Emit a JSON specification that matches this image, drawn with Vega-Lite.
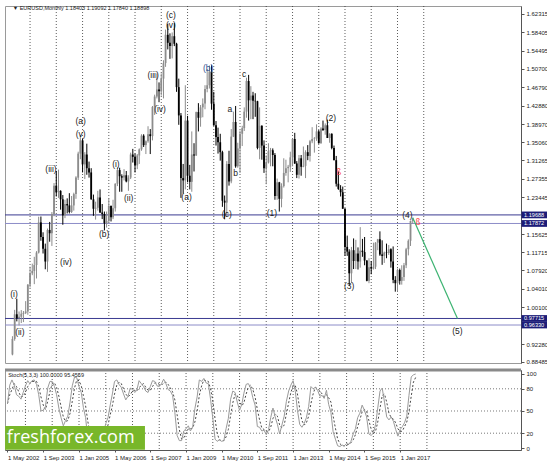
{
"$schema":"https://vega.github.io/schema/vega-lite/v6.json",
"padding":{"left":3,"top":5,"right":0,"bottom":0},
"background":"white",
"spacing":2,
"config":{"view":{"stroke":"#9a9a9a"},"font":"Liberation Sans","axis":{"labelFont":"Liberation Sans","labelFontSize":6,"labelColor":"#222222","tickColor":"#555555","domainColor":"#555555","tickSize":3,"labelPadding":2}},
"datasets":{
"bars":[
{"d":"2002-05-01","o":0.9005,"h":0.9395,"l":0.899,"c":0.9337,"k":60,"s":60},
{"d":"2002-06-01","o":0.9337,"h":0.9955,"l":0.93,"c":0.986,"k":85,"s":72},
{"d":"2002-07-01","o":0.986,"h":1.019,"l":0.971,"c":0.978,"k":92,"s":79},
{"d":"2002-08-01","o":0.978,"h":0.992,"l":0.9625,"c":0.981,"k":85,"s":87},
{"d":"2002-09-01","o":0.981,"h":0.995,"l":0.9675,"c":0.987,"k":72,"s":83},
{"d":"2002-10-01","o":0.987,"h":0.993,"l":0.9695,"c":0.989,"k":70,"s":76},
{"d":"2002-11-01","o":0.989,"h":1.014,"l":0.9865,"c":0.992,"k":66,"s":69},
{"d":"2002-12-01","o":0.992,"h":1.05,"l":0.985,"c":1.049,"k":75,"s":70},
{"d":"2003-01-01","o":1.049,"h":1.087,"l":1.043,"c":1.073,"k":84,"s":75},
{"d":"2003-02-01","o":1.073,"h":1.0935,"l":1.069,"c":1.078,"k":91,"s":83},
{"d":"2003-03-01","o":1.078,"h":1.108,"l":1.05,"c":1.0905,"k":87,"s":87},
{"d":"2003-04-01","o":1.0905,"h":1.12,"l":1.062,"c":1.117,"k":91,"s":90},
{"d":"2003-05-01","o":1.117,"h":1.193,"l":1.115,"c":1.181,"k":92,"s":90},
{"d":"2003-06-01","o":1.181,"h":1.1935,"l":1.142,"c":1.15,"k":86,"s":90},
{"d":"2003-07-01","o":1.15,"h":1.16,"l":1.115,"c":1.125,"k":72,"s":83},
{"d":"2003-08-01","o":1.125,"h":1.136,"l":1.0815,"c":1.098,"k":50,"s":69},
{"d":"2003-09-01","o":1.098,"h":1.168,"l":1.076,"c":1.165,"k":51,"s":58},
{"d":"2003-10-01","o":1.165,"h":1.182,"l":1.14,"c":1.158,"k":56,"s":52},
{"d":"2003-11-01","o":1.158,"h":1.203,"l":1.131,"c":1.199,"k":81,"s":63},
{"d":"2003-12-01","o":1.199,"h":1.2645,"l":1.194,"c":1.259,"k":90,"s":76},
{"d":"2004-01-01","o":1.259,"h":1.29,"l":1.236,"c":1.245,"k":90,"s":87},
{"d":"2004-02-01","o":1.245,"h":1.293,"l":1.233,"c":1.248,"k":83,"s":88},
{"d":"2004-03-01","o":1.248,"h":1.249,"l":1.208,"c":1.23,"k":72,"s":82},
{"d":"2004-04-01","o":1.23,"h":1.239,"l":1.176,"c":1.196,"k":54,"s":70},
{"d":"2004-05-01","o":1.196,"h":1.229,"l":1.19,"c":1.22,"k":41,"s":56},
{"d":"2004-06-01","o":1.22,"h":1.232,"l":1.2,"c":1.217,"k":30,"s":42},
{"d":"2004-07-01","o":1.217,"h":1.243,"l":1.2,"c":1.203,"k":37,"s":36},
{"d":"2004-08-01","o":1.203,"h":1.237,"l":1.201,"c":1.217,"k":43,"s":37},
{"d":"2004-09-01","o":1.217,"h":1.244,"l":1.206,"c":1.241,"k":62,"s":47},
{"d":"2004-10-01","o":1.241,"h":1.279,"l":1.231,"c":1.276,"k":84,"s":63},
{"d":"2004-11-01","o":1.276,"h":1.331,"l":1.271,"c":1.327,"k":96,"s":81},
{"d":"2004-12-01","o":1.327,"h":1.3665,"l":1.315,"c":1.355,"k":95,"s":92},
{"d":"2005-01-01","o":1.355,"h":1.358,"l":1.287,"c":1.304,"k":83,"s":91},
{"d":"2005-02-01","o":1.304,"h":1.33,"l":1.273,"c":1.325,"k":75,"s":84},
{"d":"2005-03-01","o":1.325,"h":1.348,"l":1.282,"c":1.296,"k":55,"s":71},
{"d":"2005-04-01","o":1.296,"h":1.31,"l":1.276,"c":1.287,"k":41,"s":57},
{"d":"2005-05-01","o":1.287,"h":1.296,"l":1.229,"c":1.23,"k":12,"s":36},
{"d":"2005-06-01","o":1.23,"h":1.24,"l":1.195,"c":1.21,"k":8,"s":20},
{"d":"2005-07-01","o":1.21,"h":1.225,"l":1.187,"c":1.212,"k":9,"s":10},
{"d":"2005-08-01","o":1.212,"h":1.248,"l":1.206,"c":1.234,"k":20,"s":12},
{"d":"2005-09-01","o":1.234,"h":1.251,"l":1.201,"c":1.202,"k":22,"s":17},
{"d":"2005-10-01","o":1.202,"h":1.22,"l":1.188,"c":1.199,"k":25,"s":22},
{"d":"2005-11-01","o":1.199,"h":1.204,"l":1.164,"c":1.179,"k":16,"s":21},
{"d":"2005-12-01","o":1.179,"h":1.204,"l":1.17,"c":1.184,"k":20,"s":20},
{"d":"2006-01-01","o":1.184,"h":1.232,"l":1.18,"c":1.216,"k":33,"s":23},
{"d":"2006-02-01","o":1.216,"h":1.217,"l":1.183,"c":1.192,"k":41,"s":31},
{"d":"2006-03-01","o":1.192,"h":1.229,"l":1.188,"c":1.211,"k":57,"s":44},
{"d":"2006-04-01","o":1.211,"h":1.264,"l":1.204,"c":1.263,"k":73,"s":57},
{"d":"2006-05-01","o":1.263,"h":1.298,"l":1.258,"c":1.292,"k":90,"s":73},
{"d":"2006-06-01","o":1.292,"h":1.297,"l":1.246,"c":1.279,"k":92,"s":85},
{"d":"2006-07-01","o":1.279,"h":1.283,"l":1.246,"c":1.276,"k":86,"s":89},
{"d":"2006-08-01","o":1.276,"h":1.294,"l":1.27,"c":1.281,"k":82,"s":87},
{"d":"2006-09-01","o":1.281,"h":1.29,"l":1.266,"c":1.268,"k":73,"s":80},
{"d":"2006-10-01","o":1.268,"h":1.281,"l":1.248,"c":1.276,"k":65,"s":73},
{"d":"2006-11-01","o":1.276,"h":1.329,"l":1.273,"c":1.325,"k":70,"s":69},
{"d":"2006-12-01","o":1.325,"h":1.337,"l":1.308,"c":1.32,"k":81,"s":72},
{"d":"2007-01-01","o":1.32,"h":1.327,"l":1.287,"c":1.302,"k":79,"s":77},
{"d":"2007-02-01","o":1.302,"h":1.326,"l":1.294,"c":1.323,"k":75,"s":78},
{"d":"2007-03-01","o":1.323,"h":1.338,"l":1.305,"c":1.336,"k":78,"s":77},
{"d":"2007-04-01","o":1.336,"h":1.368,"l":1.333,"c":1.365,"k":91,"s":81},
{"d":"2007-05-01","o":1.365,"h":1.368,"l":1.341,"c":1.345,"k":87,"s":85},
{"d":"2007-06-01","o":1.345,"h":1.355,"l":1.326,"c":1.353,"k":83,"s":87},
{"d":"2007-07-01","o":1.353,"h":1.385,"l":1.35,"c":1.368,"k":77,"s":82},
{"d":"2007-08-01","o":1.368,"h":1.379,"l":1.326,"c":1.364,"k":75,"s":78},
{"d":"2007-09-01","o":1.364,"h":1.428,"l":1.355,"c":1.426,"k":83,"s":78},
{"d":"2007-10-01","o":1.426,"h":1.452,"l":1.409,"c":1.448,"k":91,"s":83},
{"d":"2007-11-01","o":1.448,"h":1.497,"l":1.444,"c":1.463,"k":90,"s":88},
{"d":"2007-12-01","o":1.463,"h":1.478,"l":1.436,"c":1.459,"k":84,"s":88},
{"d":"2008-01-01","o":1.459,"h":1.497,"l":1.45,"c":1.486,"k":83,"s":86},
{"d":"2008-02-01","o":1.486,"h":1.525,"l":1.444,"c":1.519,"k":87,"s":85},
{"d":"2008-03-01","o":1.519,"h":1.59,"l":1.511,"c":1.579,"k":93,"s":88},
{"d":"2008-04-01","o":1.579,"h":1.602,"l":1.548,"c":1.562,"k":87,"s":89},
{"d":"2008-05-01","o":1.562,"h":1.582,"l":1.528,"c":1.555,"k":79,"s":86},
{"d":"2008-06-01","o":1.555,"h":1.584,"l":1.529,"c":1.576,"k":77,"s":81},
{"d":"2008-07-01","o":1.576,"h":1.6038,"l":1.555,"c":1.56,"k":71,"s":76},
{"d":"2008-08-01","o":1.56,"h":1.562,"l":1.458,"c":1.468,"k":48,"s":65},
{"d":"2008-09-01","o":1.468,"h":1.486,"l":1.388,"c":1.408,"k":17,"s":45},
{"d":"2008-10-01","o":1.408,"h":1.413,"l":1.233,"c":1.275,"k":10,"s":25},
{"d":"2008-11-01","o":1.275,"h":1.305,"l":1.242,"c":1.27,"k":10,"s":12},
{"d":"2008-12-01","o":1.27,"h":1.472,"l":1.251,"c":1.397,"k":23,"s":14},
{"d":"2009-01-01","o":1.397,"h":1.407,"l":1.266,"c":1.28,"k":26,"s":20},
{"d":"2009-02-01","o":1.28,"h":1.303,"l":1.251,"c":1.267,"k":30,"s":26},
{"d":"2009-03-01","o":1.267,"h":1.374,"l":1.246,"c":1.325,"k":23,"s":26},
{"d":"2009-04-01","o":1.325,"h":1.349,"l":1.289,"c":1.323,"k":28,"s":27},
{"d":"2009-05-01","o":1.323,"h":1.416,"l":1.322,"c":1.415,"k":53,"s":35},
{"d":"2009-06-01","o":1.415,"h":1.434,"l":1.374,"c":1.403,"k":69,"s":50},
{"d":"2009-07-01","o":1.403,"h":1.43,"l":1.384,"c":1.425,"k":92,"s":71},
{"d":"2009-08-01","o":1.425,"h":1.444,"l":1.404,"c":1.433,"k":90,"s":84},
{"d":"2009-09-01","o":1.433,"h":1.472,"l":1.421,"c":1.464,"k":94,"s":92},
{"d":"2009-10-01","o":1.464,"h":1.506,"l":1.457,"c":1.472,"k":88,"s":91},
{"d":"2009-11-01","o":1.472,"h":1.514,"l":1.465,"c":1.501,"k":87,"s":90},
{"d":"2009-12-01","o":1.501,"h":1.5145,"l":1.42,"c":1.433,"k":66,"s":80},
{"d":"2010-01-01","o":1.433,"h":1.458,"l":1.386,"c":1.387,"k":40,"s":64},
{"d":"2010-02-01","o":1.387,"h":1.396,"l":1.344,"c":1.362,"k":12,"s":39},
{"d":"2010-03-01","o":1.362,"h":1.382,"l":1.327,"c":1.351,"k":9,"s":20},
{"d":"2010-04-01","o":1.351,"h":1.369,"l":1.312,"c":1.33,"k":11,"s":11},
{"d":"2010-05-01","o":1.33,"h":1.333,"l":1.214,"c":1.227,"k":9,"s":10},
{"d":"2010-06-01","o":1.227,"h":1.238,"l":1.1876,"c":1.223,"k":10,"s":10},
{"d":"2010-07-01","o":1.223,"h":1.311,"l":1.196,"c":1.305,"k":26,"s":15},
{"d":"2010-08-01","o":1.305,"h":1.333,"l":1.259,"c":1.268,"k":40,"s":25},
{"d":"2010-09-01","o":1.268,"h":1.379,"l":1.264,"c":1.363,"k":66,"s":44},
{"d":"2010-10-01","o":1.363,"h":1.416,"l":1.362,"c":1.394,"k":77,"s":61},
{"d":"2010-11-01","o":1.394,"h":1.428,"l":1.297,"c":1.3,"k":75,"s":73},
{"d":"2010-12-01","o":1.3,"h":1.35,"l":1.297,"c":1.338,"k":62,"s":71},
{"d":"2011-01-01","o":1.338,"h":1.376,"l":1.286,"c":1.369,"k":51,"s":63},
{"d":"2011-02-01","o":1.369,"h":1.386,"l":1.343,"c":1.381,"k":59,"s":57},
{"d":"2011-03-01","o":1.381,"h":1.425,"l":1.375,"c":1.416,"k":74,"s":61},
{"d":"2011-04-01","o":1.416,"h":1.488,"l":1.403,"c":1.481,"k":86,"s":73},
{"d":"2011-05-01","o":1.481,"h":1.494,"l":1.397,"c":1.44,"k":87,"s":82},
{"d":"2011-06-01","o":1.44,"h":1.47,"l":1.4,"c":1.45,"k":81,"s":85},
{"d":"2011-07-01","o":1.45,"h":1.458,"l":1.4,"c":1.439,"k":68,"s":79},
{"d":"2011-08-01","o":1.439,"h":1.455,"l":1.405,"c":1.438,"k":58,"s":69},
{"d":"2011-09-01","o":1.438,"h":1.439,"l":1.336,"c":1.339,"k":29,"s":52},
{"d":"2011-10-01","o":1.339,"h":1.425,"l":1.315,"c":1.386,"k":28,"s":38},
{"d":"2011-11-01","o":1.386,"h":1.387,"l":1.314,"c":1.344,"k":23,"s":27},
{"d":"2011-12-01","o":1.344,"h":1.355,"l":1.286,"c":1.296,"k":24,"s":25},
{"d":"2012-01-01","o":1.296,"h":1.323,"l":1.262,"c":1.308,"k":18,"s":22},
{"d":"2012-02-01","o":1.308,"h":1.349,"l":1.306,"c":1.332,"k":25,"s":22},
{"d":"2012-03-01","o":1.332,"h":1.339,"l":1.3,"c":1.334,"k":41,"s":28},
{"d":"2012-04-01","o":1.334,"h":1.338,"l":1.3,"c":1.324,"k":54,"s":40},
{"d":"2012-05-01","o":1.324,"h":1.328,"l":1.229,"c":1.237,"k":42,"s":46},
{"d":"2012-06-01","o":1.237,"h":1.274,"l":1.229,"c":1.266,"k":32,"s":43},
{"d":"2012-07-01","o":1.266,"h":1.267,"l":1.204,"c":1.231,"k":19,"s":31},
{"d":"2012-08-01","o":1.231,"h":1.264,"l":1.213,"c":1.258,"k":31,"s":27},
{"d":"2012-09-01","o":1.258,"h":1.317,"l":1.255,"c":1.286,"k":43,"s":31},
{"d":"2012-10-01","o":1.286,"h":1.314,"l":1.28,"c":1.296,"k":63,"s":46},
{"d":"2012-11-01","o":1.296,"h":1.303,"l":1.266,"c":1.299,"k":77,"s":61},
{"d":"2012-12-01","o":1.299,"h":1.331,"l":1.288,"c":1.319,"k":85,"s":75},
{"d":"2013-01-01","o":1.319,"h":1.359,"l":1.3,"c":1.358,"k":91,"s":84},
{"d":"2013-02-01","o":1.358,"h":1.371,"l":1.305,"c":1.306,"k":76,"s":84},
{"d":"2013-03-01","o":1.306,"h":1.311,"l":1.275,"c":1.282,"k":51,"s":73},
{"d":"2013-04-01","o":1.282,"h":1.324,"l":1.274,"c":1.317,"k":32,"s":53},
{"d":"2013-05-01","o":1.317,"h":1.324,"l":1.28,"c":1.299,"k":28,"s":37},
{"d":"2013-06-01","o":1.299,"h":1.342,"l":1.298,"c":1.301,"k":33,"s":31},
{"d":"2013-07-01","o":1.301,"h":1.334,"l":1.275,"c":1.33,"k":41,"s":34},
{"d":"2013-08-01","o":1.33,"h":1.345,"l":1.313,"c":1.322,"k":56,"s":43},
{"d":"2013-09-01","o":1.322,"h":1.356,"l":1.31,"c":1.353,"k":83,"s":60},
{"d":"2013-10-01","o":1.353,"h":1.383,"l":1.349,"c":1.358,"k":80,"s":73},
{"d":"2013-11-01","o":1.358,"h":1.362,"l":1.329,"c":1.359,"k":82,"s":82},
{"d":"2013-12-01","o":1.359,"h":1.389,"l":1.354,"c":1.374,"k":78,"s":80},
{"d":"2014-01-01","o":1.374,"h":1.377,"l":1.348,"c":1.349,"k":70,"s":77},
{"d":"2014-02-01","o":1.349,"h":1.383,"l":1.348,"c":1.38,"k":71,"s":73},
{"d":"2014-03-01","o":1.38,"h":1.397,"l":1.375,"c":1.377,"k":67,"s":69},
{"d":"2014-04-01","o":1.377,"h":1.391,"l":1.367,"c":1.387,"k":78,"s":72},
{"d":"2014-05-01","o":1.387,"h":1.399,"l":1.36,"c":1.36,"k":59,"s":68},
{"d":"2014-06-01","o":1.36,"h":1.37,"l":1.35,"c":1.369,"k":48,"s":62},
{"d":"2014-07-01","o":1.369,"h":1.37,"l":1.336,"c":1.339,"k":22,"s":43},
{"d":"2014-08-01","o":1.339,"h":1.344,"l":1.313,"c":1.313,"k":12,"s":27},
{"d":"2014-09-01","o":1.313,"h":1.322,"l":1.257,"c":1.263,"k":3,"s":12},
{"d":"2014-10-01","o":1.263,"h":1.289,"l":1.25,"c":1.252,"k":2,"s":6},
{"d":"2014-11-01","o":1.252,"h":1.26,"l":1.236,"c":1.245,"k":4,"s":3},
{"d":"2014-12-01","o":1.245,"h":1.257,"l":1.21,"c":1.21,"k":3,"s":3},
{"d":"2015-01-01","o":1.21,"h":1.211,"l":1.11,"c":1.129,"k":6,"s":4},
{"d":"2015-02-01","o":1.129,"h":1.153,"l":1.11,"c":1.119,"k":5,"s":5},
{"d":"2015-03-01","o":1.119,"h":1.124,"l":1.046,"c":1.073,"k":9,"s":7},
{"d":"2015-04-01","o":1.073,"h":1.129,"l":1.052,"c":1.122,"k":19,"s":11},
{"d":"2015-05-01","o":1.122,"h":1.147,"l":1.082,"c":1.099,"k":26,"s":18},
{"d":"2015-06-01","o":1.099,"h":1.144,"l":1.082,"c":1.115,"k":41,"s":29},
{"d":"2015-07-01","o":1.115,"h":1.128,"l":1.081,"c":1.098,"k":47,"s":38},
{"d":"2015-08-01","o":1.098,"h":1.171,"l":1.085,"c":1.121,"k":58,"s":49},
{"d":"2015-09-01","o":1.121,"h":1.146,"l":1.108,"c":1.118,"k":51,"s":52},
{"d":"2015-10-01","o":1.118,"h":1.15,"l":1.09,"c":1.1,"k":42,"s":50},
{"d":"2015-11-01","o":1.1,"h":1.101,"l":1.056,"c":1.057,"k":19,"s":37},
{"d":"2015-12-01","o":1.057,"h":1.105,"l":1.052,"c":1.086,"k":17,"s":26},
{"d":"2016-01-01","o":1.086,"h":1.099,"l":1.071,"c":1.083,"k":20,"s":19},
{"d":"2016-02-01","o":1.083,"h":1.138,"l":1.081,"c":1.087,"k":32,"s":23},
{"d":"2016-03-01","o":1.087,"h":1.139,"l":1.082,"c":1.138,"k":54,"s":35},
{"d":"2016-04-01","o":1.138,"h":1.146,"l":1.122,"c":1.145,"k":77,"s":54},
{"d":"2016-05-01","o":1.145,"h":1.162,"l":1.11,"c":1.113,"k":81,"s":71},
{"d":"2016-06-01","o":1.113,"h":1.143,"l":1.091,"c":1.11,"k":62,"s":73},
{"d":"2016-07-01","o":1.11,"h":1.119,"l":1.095,"c":1.117,"k":42,"s":62},
{"d":"2016-08-01","o":1.117,"h":1.136,"l":1.105,"c":1.116,"k":38,"s":47},
{"d":"2016-09-01","o":1.116,"h":1.133,"l":1.112,"c":1.124,"k":42,"s":41},
{"d":"2016-10-01","o":1.124,"h":1.126,"l":1.085,"c":1.098,"k":36,"s":39},
{"d":"2016-11-01","o":1.098,"h":1.13,"l":1.052,"c":1.059,"k":25,"s":34},
{"d":"2016-12-01","o":1.059,"h":1.067,"l":1.034,"c":1.052,"k":16,"s":26},
{"d":"2017-01-01","o":1.052,"h":1.083,"l":1.034,"c":1.08,"k":25,"s":22},
{"d":"2017-02-01","o":1.08,"h":1.083,"l":1.049,"c":1.057,"k":29,"s":23},
{"d":"2017-03-01","o":1.057,"h":1.09,"l":1.049,"c":1.065,"k":34,"s":29},
{"d":"2017-04-01","o":1.065,"h":1.095,"l":1.057,"c":1.09,"k":43,"s":35},
{"d":"2017-05-01","o":1.09,"h":1.127,"l":1.084,"c":1.124,"k":71,"s":49},
{"d":"2017-06-01","o":1.124,"h":1.145,"l":1.111,"c":1.142,"k":96,"s":70},
{"d":"2017-07-01","o":1.142,"h":1.185,"l":1.131,"c":1.184,"k":99,"s":89},
{"d":"2017-08-01","o":1.18403,"h":1.19092,"l":1.1784,"c":1.18898,"k":100,"s":95.4569}
],
"years":[{"d":"2003-01-01"},{"d":"2004-01-01"},{"d":"2005-01-01"},{"d":"2006-01-01"},{"d":"2007-01-01"},{"d":"2008-01-01"},{"d":"2009-01-01"},{"d":"2010-01-01"},{"d":"2011-01-01"},{"d":"2012-01-01"},{"d":"2013-01-01"},{"d":"2014-01-01"},{"d":"2015-01-01"},{"d":"2016-01-01"},{"d":"2017-01-01"},{"d":"2018-01-01"}],
"labels":[
{"d":"2008-05-15","p":1.621,"t":"(c)"},
{"d":"2008-05-15","p":1.5998,"t":"(v)"},
{"d":"2007-09-10","p":1.4937,"t":"(iii)"},
{"d":"2007-12-15","p":1.4216,"t":"(iv)"},
{"d":"2010-08-12","p":1.4216,"t":"a"},
{"d":"2011-03-01","p":1.4958,"t":"c"},
{"d":"2004-12-05","p":1.3961,"t":"(a)"},
{"d":"2004-12-05","p":1.3685,"t":"(v)"},
{"d":"2003-10-20","p":1.2943,"t":"(iii)"},
{"d":"2006-04-10","p":1.3049,"t":"(i)"},
{"d":"2006-10-05","p":1.2328,"t":"(ii)"},
{"d":"2005-10-28","p":1.1564,"t":"(b)"},
{"d":"2004-05-15","p":1.097,"t":"(iv)"},
{"d":"2008-12-18","p":1.2349,"t":"(a)"},
{"d":"2010-07-01","p":1.1988,"t":"(c)"},
{"d":"2010-11-01","p":1.2858,"t":"b"},
{"d":"2012-03-20","p":1.2009,"t":"(1)"},
{"d":"2002-05-22","p":1.0291,"t":"(i)"},
{"d":"2002-08-12","p":0.9485,"t":"(ii)"},
{"d":"2014-06-18","p":1.4025,"t":"(2)"},
{"d":"2015-03-01","p":1.046,"t":"(3)"},
{"d":"2017-05-18","p":1.1967,"t":"(4)"},
{"d":"2019-04-15","p":0.9506,"t":"(5)"}
]
},
"vconcat":[
{
"width":516,"height":357,
"layer":[
{"data":{"name":"years"},"mark":{"type":"rule","strokeDash":[1,2],"color":"#333333","strokeWidth":0.8},
 "encoding":{"x":{"field":"d","type":"temporal","scale":{"type":"utc","domain":[{"year":2002,"month":3,"date":28,"utc":true},{"year":2021,"month":7,"date":8,"utc":true}]},"axis":null}}},
{"data":{"values":[{"p":1.19688},{"p":0.97715}]},"mark":{"type":"rule","color":"#3a3a90","strokeWidth":1},
 "encoding":{"y":{"field":"p","type":"quantitative","scale":{"domain":[0.8827,1.6401],"zero":false,"nice":false},"axis":{"orient":"right","title":null,"grid":false,"format":".5f","values":[1.62315,1.58405,1.54495,1.507,1.4679,1.4288,1.3897,1.3506,1.31265,1.27355,1.23445,1.15625,1.11715,1.0792,1.0401,1.001,0.9228,0.88485]}}}},
{"data":{"values":[{"p":1.17872},{"p":0.9633}]},"mark":{"type":"rule","color":"#8c8cc8","strokeWidth":1},
 "encoding":{"y":{"field":"p","type":"quantitative","scale":{"domain":[0.8827,1.6401],"zero":false,"nice":false},"axis":{"orient":"right","title":null,"grid":false,"format":".5f","values":[1.62315,1.58405,1.54495,1.507,1.4679,1.4288,1.3897,1.3506,1.31265,1.27355,1.23445,1.15625,1.11715,1.0792,1.0401,1.001,0.9228,0.88485]}}}},
{"data":{"name":"bars"},"mark":{"type":"rule","strokeWidth":1},
 "encoding":{"x":{"field":"d","type":"temporal","scale":{"type":"utc","domain":[{"year":2002,"month":3,"date":28,"utc":true},{"year":2021,"month":7,"date":8,"utc":true}]},"axis":null},
 "y":{"field":"l","type":"quantitative","scale":{"domain":[0.8827,1.6401],"zero":false,"nice":false},"axis":{"orient":"right","title":null,"grid":false,"format":".5f","values":[1.62315,1.58405,1.54495,1.507,1.4679,1.4288,1.3897,1.3506,1.31265,1.27355,1.23445,1.15625,1.11715,1.0792,1.0401,1.001,0.9228,0.88485]}},
 "y2":{"field":"h"},
 "color":{"condition":{"test":"datum.c >= datum.o","value":"#8c8c8c"},"value":"#000000"}}},
{"data":{"name":"bars"},"mark":{"type":"bar","size":1.8},
 "encoding":{"x":{"field":"d","type":"temporal","scale":{"type":"utc","domain":[{"year":2002,"month":3,"date":28,"utc":true},{"year":2021,"month":7,"date":8,"utc":true}]},"axis":null},
 "y":{"field":"o","type":"quantitative","scale":{"domain":[0.8827,1.6401],"zero":false,"nice":false},"axis":{"orient":"right","title":null,"grid":false,"format":".5f","values":[1.62315,1.58405,1.54495,1.507,1.4679,1.4288,1.3897,1.3506,1.31265,1.27355,1.23445,1.15625,1.11715,1.0792,1.0401,1.001,0.9228,0.88485]}},
 "y2":{"field":"c"},
 "color":{"condition":{"test":"datum.c >= datum.o","value":"#8c8c8c"},"value":"#000000"}}},
{"data":{"values":[{"d":"2017-08-01","p":1.19092},{"d":"2019-04-15","p":0.97715}]},"mark":{"type":"line","color":"#3cb371","strokeWidth":1.2},
 "encoding":{"x":{"field":"d","type":"temporal","scale":{"type":"utc","domain":[{"year":2002,"month":3,"date":28,"utc":true},{"year":2021,"month":7,"date":8,"utc":true}]},"axis":null},
 "y":{"field":"p","type":"quantitative","scale":{"domain":[0.8827,1.6401],"zero":false,"nice":false},"axis":{"orient":"right","title":null,"grid":false,"format":".5f","values":[1.62315,1.58405,1.54495,1.507,1.4679,1.4288,1.3897,1.3506,1.31265,1.27355,1.23445,1.15625,1.11715,1.0792,1.0401,1.001,0.9228,0.88485]}}}},
{"data":{"name":"labels"},"mark":{"type":"text","fontSize":8.5,"color":"#222222","font":"Liberation Sans"},
 "encoding":{"x":{"field":"d","type":"temporal","scale":{"type":"utc","domain":[{"year":2002,"month":3,"date":28,"utc":true},{"year":2021,"month":7,"date":8,"utc":true}]},"axis":null},
 "y":{"field":"p","type":"quantitative","scale":{"domain":[0.8827,1.6401],"zero":false,"nice":false},"axis":{"orient":"right","title":null,"grid":false,"format":".5f","values":[1.62315,1.58405,1.54495,1.507,1.4679,1.4288,1.3897,1.3506,1.31265,1.27355,1.23445,1.15625,1.11715,1.0792,1.0401,1.001,0.9228,0.88485]}},
 "text":{"field":"t"}}},
{"data":{"values":[{"d":"2009-10-15","p":1.5086,"t":"(b)"}]},"mark":{"type":"text","fontSize":8.5,"color":"#2a4d8f","font":"Liberation Sans"},
 "encoding":{"x":{"field":"d","type":"temporal","scale":{"type":"utc","domain":[{"year":2002,"month":3,"date":28,"utc":true},{"year":2021,"month":7,"date":8,"utc":true}]},"axis":null},
 "y":{"field":"p","type":"quantitative","scale":{"domain":[0.8827,1.6401],"zero":false,"nice":false},"axis":{"orient":"right","title":null,"grid":false,"format":".5f","values":[1.62315,1.58405,1.54495,1.507,1.4679,1.4288,1.3897,1.3506,1.31265,1.27355,1.23445,1.15625,1.11715,1.0792,1.0401,1.001,0.9228,0.88485]}},
 "text":{"field":"t"}}},
{"data":{"values":[{"d":"2014-10-05","p":1.2858},{"d":"2017-10-15","p":1.1797}]},"mark":{"type":"text","fontSize":8,"color":"#ff4a4a","text":"ß","font":"DejaVu Sans"},
 "encoding":{"x":{"field":"d","type":"temporal","scale":{"type":"utc","domain":[{"year":2002,"month":3,"date":28,"utc":true},{"year":2021,"month":7,"date":8,"utc":true}]},"axis":null},
 "y":{"field":"p","type":"quantitative","scale":{"domain":[0.8827,1.6401],"zero":false,"nice":false},"axis":{"orient":"right","title":null,"grid":false,"format":".5f","values":[1.62315,1.58405,1.54495,1.507,1.4679,1.4288,1.3897,1.3506,1.31265,1.27355,1.23445,1.15625,1.11715,1.0792,1.0401,1.001,0.9228,0.88485]}}}},
{"data":{"values":[{}]},"mark":{"type":"text","fontSize":5.5,"color":"#222222","align":"left","baseline":"middle","text":"▼ EURUSD,Monthly  1.18403 1.19092 1.17840 1.18898"},
 "encoding":{"x":{"datum":{"year":2002,"month":5,"date":5,"utc":true},"type":"temporal","scale":{"type":"utc","domain":[{"year":2002,"month":3,"date":28,"utc":true},{"year":2021,"month":7,"date":8,"utc":true}]},"axis":null},
 "y":{"datum":1.6348,"type":"quantitative","scale":{"domain":[0.8827,1.6401],"zero":false,"nice":false},"axis":{"orient":"right","title":null,"grid":false,"format":".5f","values":[1.62315,1.58405,1.54495,1.507,1.4679,1.4288,1.3897,1.3506,1.31265,1.27355,1.23445,1.15625,1.11715,1.0792,1.0401,1.001,0.9228,0.88485]}}}},
{"data":{"values":[{"p":1.19688},{"p":1.17872},{"p":0.97715},{"p":0.9633}]},"mark":{"type":"point","filled":true,"opacity":1,"color":"#1c1c78","strokeWidth":0,"shape":"M-1,-0.25H1V0.25H-1Z","size":729,"x":{"expr":"width+14"}},
 "encoding":{"y":{"field":"p","type":"quantitative","scale":{"domain":[0.8827,1.6401],"zero":false,"nice":false},"axis":{"orient":"right","title":null,"grid":false,"format":".5f","values":[1.62315,1.58405,1.54495,1.507,1.4679,1.4288,1.3897,1.3506,1.31265,1.27355,1.23445,1.15625,1.11715,1.0792,1.0401,1.001,0.9228,0.88485]}}}},
{"data":{"values":[{"p":1.19688},{"p":1.17872},{"p":0.97715},{"p":0.9633}]},"mark":{"type":"text","fontSize":5.6,"color":"#ffffff","align":"left","baseline":"middle","x":{"expr":"width+3"}},
 "encoding":{"y":{"field":"p","type":"quantitative","scale":{"domain":[0.8827,1.6401],"zero":false,"nice":false},"axis":{"orient":"right","title":null,"grid":false,"format":".5f","values":[1.62315,1.58405,1.54495,1.507,1.4679,1.4288,1.3897,1.3506,1.31265,1.27355,1.23445,1.15625,1.11715,1.0792,1.0401,1.001,0.9228,0.88485]}},
 "text":{"field":"p","type":"quantitative","format":".5f"}}}
]
},
{
"width":516,"height":80,
"layer":[
{"data":{"name":"years"},"mark":{"type":"rule","strokeDash":[1,2],"color":"#333333","strokeWidth":0.8},
 "encoding":{"x":{"field":"d","type":"temporal","scale":{"type":"utc","domain":[{"year":2002,"month":3,"date":28,"utc":true},{"year":2021,"month":7,"date":8,"utc":true}]},"axis":{"orient":"bottom","title":null,"grid":false,"format":"%-d %b %Y","labelAlign":"left","labelOverlap":false,"tickSize":2,"labelPadding":2,"values":[{"year":2002,"month":5,"date":1,"utc":true},{"year":2003,"month":9,"date":1,"utc":true},{"year":2005,"month":1,"date":1,"utc":true},{"year":2006,"month":5,"date":1,"utc":true},{"year":2007,"month":9,"date":1,"utc":true},{"year":2009,"month":1,"date":1,"utc":true},{"year":2010,"month":5,"date":1,"utc":true},{"year":2011,"month":9,"date":1,"utc":true},{"year":2013,"month":1,"date":1,"utc":true},{"year":2014,"month":5,"date":1,"utc":true},{"year":2015,"month":9,"date":1,"utc":true},{"year":2017,"month":1,"date":1,"utc":true}]}}}},
{"data":{"values":[{"v":20},{"v":50},{"v":80}]},"mark":{"type":"rule","strokeDash":[1,2],"color":"#555555","strokeWidth":0.8},
 "encoding":{"y":{"field":"v","type":"quantitative","scale":{"domain":[-2.7,105.4],"zero":false,"nice":false},"axis":{"orient":"right","title":null,"grid":false,"format":"d","values":[0,20,50,80,100]}}}},
{"data":{"name":"bars"},"mark":{"type":"line","color":"#333333","strokeWidth":0.9,"strokeDash":[2,2]},
 "encoding":{"x":{"field":"d","type":"temporal","scale":{"type":"utc","domain":[{"year":2002,"month":3,"date":28,"utc":true},{"year":2021,"month":7,"date":8,"utc":true}]},"axis":{"orient":"bottom","title":null,"grid":false,"format":"%-d %b %Y","labelAlign":"left","labelOverlap":false,"tickSize":2,"labelPadding":2,"values":[{"year":2002,"month":5,"date":1,"utc":true},{"year":2003,"month":9,"date":1,"utc":true},{"year":2005,"month":1,"date":1,"utc":true},{"year":2006,"month":5,"date":1,"utc":true},{"year":2007,"month":9,"date":1,"utc":true},{"year":2009,"month":1,"date":1,"utc":true},{"year":2010,"month":5,"date":1,"utc":true},{"year":2011,"month":9,"date":1,"utc":true},{"year":2013,"month":1,"date":1,"utc":true},{"year":2014,"month":5,"date":1,"utc":true},{"year":2015,"month":9,"date":1,"utc":true},{"year":2017,"month":1,"date":1,"utc":true}]}},
 "y":{"field":"s","type":"quantitative","scale":{"domain":[-2.7,105.4],"zero":false,"nice":false},"axis":{"orient":"right","title":null,"grid":false,"format":"d","values":[0,20,50,80,100]}}}},
{"data":{"name":"bars"},"mark":{"type":"line","color":"#9a9a9a","strokeWidth":1},
 "encoding":{"x":{"field":"d","type":"temporal","scale":{"type":"utc","domain":[{"year":2002,"month":3,"date":28,"utc":true},{"year":2021,"month":7,"date":8,"utc":true}]},"axis":{"orient":"bottom","title":null,"grid":false,"format":"%-d %b %Y","labelAlign":"left","labelOverlap":false,"tickSize":2,"labelPadding":2,"values":[{"year":2002,"month":5,"date":1,"utc":true},{"year":2003,"month":9,"date":1,"utc":true},{"year":2005,"month":1,"date":1,"utc":true},{"year":2006,"month":5,"date":1,"utc":true},{"year":2007,"month":9,"date":1,"utc":true},{"year":2009,"month":1,"date":1,"utc":true},{"year":2010,"month":5,"date":1,"utc":true},{"year":2011,"month":9,"date":1,"utc":true},{"year":2013,"month":1,"date":1,"utc":true},{"year":2014,"month":5,"date":1,"utc":true},{"year":2015,"month":9,"date":1,"utc":true},{"year":2017,"month":1,"date":1,"utc":true}]}},
 "y":{"field":"k","type":"quantitative","scale":{"domain":[-2.7,105.4],"zero":false,"nice":false},"axis":{"orient":"right","title":null,"grid":false,"format":"d","values":[0,20,50,80,100]}}}},
{"data":{"values":[{}]},"mark":{"type":"rule","color":"#8a8a8a","strokeWidth":3},
 "encoding":{"y":{"datum":105.4,"type":"quantitative","scale":{"domain":[-2.7,105.4],"zero":false,"nice":false},"axis":{"orient":"right","title":null,"grid":false,"format":"d","values":[0,20,50,80,100]}}}},
{"data":{"values":[{}]},"mark":{"type":"rect","color":"#78b72a"},
 "encoding":{"x":{"datum":{"year":2002,"month":3,"date":29,"utc":true},"type":"temporal","scale":{"type":"utc","domain":[{"year":2002,"month":3,"date":28,"utc":true},{"year":2021,"month":7,"date":8,"utc":true}]},"axis":{"orient":"bottom","title":null,"grid":false,"format":"%-d %b %Y","labelAlign":"left","labelOverlap":false,"tickSize":2,"labelPadding":2,"values":[{"year":2002,"month":5,"date":1,"utc":true},{"year":2003,"month":9,"date":1,"utc":true},{"year":2005,"month":1,"date":1,"utc":true},{"year":2006,"month":5,"date":1,"utc":true},{"year":2007,"month":9,"date":1,"utc":true},{"year":2009,"month":1,"date":1,"utc":true},{"year":2010,"month":5,"date":1,"utc":true},{"year":2011,"month":9,"date":1,"utc":true},{"year":2013,"month":1,"date":1,"utc":true},{"year":2014,"month":5,"date":1,"utc":true},{"year":2015,"month":9,"date":1,"utc":true},{"year":2017,"month":1,"date":1,"utc":true}]}},
 "x2":{"datum":{"year":2007,"month":6,"date":20,"utc":true}},
 "y":{"datum":-2.2,"type":"quantitative","scale":{"domain":[-2.7,105.4],"zero":false,"nice":false},"axis":{"orient":"right","title":null,"grid":false,"format":"d","values":[0,20,50,80,100]}},
 "y2":{"datum":29.7}}},
{"data":{"values":[{}]},"mark":{"type":"text","color":"#ffffff","font":"Open Sans","fontSize":18,"align":"center","baseline":"middle","text":"freshforex.com"},
 "encoding":{"x":{"datum":{"year":2004,"month":9,"date":10,"utc":true},"type":"temporal","scale":{"type":"utc","domain":[{"year":2002,"month":3,"date":28,"utc":true},{"year":2021,"month":7,"date":8,"utc":true}]},"axis":{"orient":"bottom","title":null,"grid":false,"format":"%-d %b %Y","labelAlign":"left","labelOverlap":false,"tickSize":2,"labelPadding":2,"values":[{"year":2002,"month":5,"date":1,"utc":true},{"year":2003,"month":9,"date":1,"utc":true},{"year":2005,"month":1,"date":1,"utc":true},{"year":2006,"month":5,"date":1,"utc":true},{"year":2007,"month":9,"date":1,"utc":true},{"year":2009,"month":1,"date":1,"utc":true},{"year":2010,"month":5,"date":1,"utc":true},{"year":2011,"month":9,"date":1,"utc":true},{"year":2013,"month":1,"date":1,"utc":true},{"year":2014,"month":5,"date":1,"utc":true},{"year":2015,"month":9,"date":1,"utc":true},{"year":2017,"month":1,"date":1,"utc":true}]}},
 "y":{"datum":13.5,"type":"quantitative","scale":{"domain":[-2.7,105.4],"zero":false,"nice":false},"axis":{"orient":"right","title":null,"grid":false,"format":"d","values":[0,20,50,80,100]}}}},
{"data":{"values":[{}]},"mark":{"type":"text","color":"#222222","fontSize":5.5,"align":"left","baseline":"middle","text":"Stoch(5,3,3) 100.0000 95.4569"},
 "encoding":{"x":{"datum":{"year":2002,"month":5,"date":10,"utc":true},"type":"temporal","scale":{"type":"utc","domain":[{"year":2002,"month":3,"date":28,"utc":true},{"year":2021,"month":7,"date":8,"utc":true}]},"axis":{"orient":"bottom","title":null,"grid":false,"format":"%-d %b %Y","labelAlign":"left","labelOverlap":false,"tickSize":2,"labelPadding":2,"values":[{"year":2002,"month":5,"date":1,"utc":true},{"year":2003,"month":9,"date":1,"utc":true},{"year":2005,"month":1,"date":1,"utc":true},{"year":2006,"month":5,"date":1,"utc":true},{"year":2007,"month":9,"date":1,"utc":true},{"year":2009,"month":1,"date":1,"utc":true},{"year":2010,"month":5,"date":1,"utc":true},{"year":2011,"month":9,"date":1,"utc":true},{"year":2013,"month":1,"date":1,"utc":true},{"year":2014,"month":5,"date":1,"utc":true},{"year":2015,"month":9,"date":1,"utc":true},{"year":2017,"month":1,"date":1,"utc":true}]}},
 "y":{"datum":99.3,"type":"quantitative","scale":{"domain":[-2.7,105.4],"zero":false,"nice":false},"axis":{"orient":"right","title":null,"grid":false,"format":"d","values":[0,20,50,80,100]}}}}
]
}
]
}
